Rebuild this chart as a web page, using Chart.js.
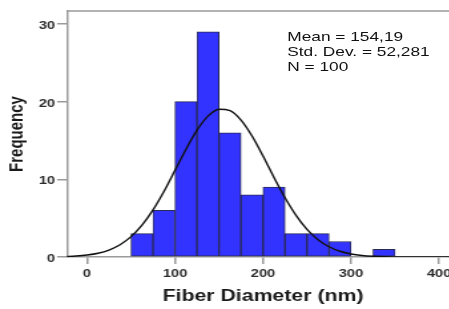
<!DOCTYPE html>
<html>
<head>
<meta charset="utf-8">
<script src="https://cdn.jsdelivr.net/npm/chart.js@4/dist/chart.umd.min.js"></script>
<style>
  html, body { margin: 0; padding: 0; background: #fff; overflow: hidden; width: 449px; height: 309px; }
  #wrap { position: absolute; left: 0; top: 0; width: 353px; height: 309px; transform: scaleX(1.33); transform-origin: 0 0; }
  #stats { position: absolute; left: 216px; top: 29px; font: 13px "Liberation Sans", Arial, sans-serif; line-height: 15px; color: #111; white-space: nowrap; }
</style>
</head>
<body>
<div id="wrap">
  <canvas id="c" width="353" height="309"></canvas>
  <div id="stats"></div>
</div>
<script>
// Histogram bins (bin centres, width 25 nm) and counts
const binCenters = [62.5, 87.5, 112.5, 137.5, 162.5, 187.5, 212.5, 237.5, 262.5, 287.5, 312.5, 337.5];
const binCounts  = [3, 6, 20, 29, 16, 8, 9, 3, 3, 2, 0, 1];

// Fitted normal curve
const curveX = [-25, -12.5, 0, 12.5, 25, 37.5, 50, 62.5, 75, 87.5, 100, 112.5, 125, 137.5, 150, 162.5, 175, 187.5, 200, 212.5, 225, 237.5, 250, 262.5, 275, 287.5, 300, 312.5, 325, 337.5, 350, 375, 400, 425];
const curveY = [0.05, 0.12, 0.25, 0.48, 0.90, 1.58, 2.62, 4.10, 6.06, 8.46, 11.16, 13.88, 16.33, 18.13, 19.02, 18.84, 17.63, 15.58, 13.00, 10.24, 7.63, 5.36, 3.56, 2.23, 1.32, 0.74, 0.39, 0.19, 0.09, 0.04, 0.02, 0.00, 0.00, 0.00];

// Tick labels
const xTicks = [0, 100, 200, 300, 400];
const yTicks = [0, 10, 20, 30];

const statsLines = ["Mean = 154,19", "Std. Dev. = 52,281", "N = 100"];
const xTitle = "Fiber Diameter (nm)";
const yTitle = "Frequency";

document.getElementById('stats').innerHTML = statsLines.map(s => '<div>' + s + '</div>').join('');

const axisGray = '#9a9a9a';
const tickFont = { family: '"Liberation Sans", Arial, sans-serif', size: 11, weight: 'bold' };

const frame = {
  id: 'frame',
  afterDatasetsDraw(chart) {
    const { ctx, chartArea: a } = chart;
    ctx.save();
    ctx.strokeStyle = axisGray;
    ctx.lineWidth = 1.5;
    ctx.beginPath();
    ctx.moveTo(a.left, a.top);
    ctx.lineTo(a.right, a.top);
    ctx.lineTo(a.right, a.bottom);
    ctx.stroke();
    ctx.restore();
  }
};

new Chart(document.getElementById('c'), {
  type: 'bar',
  data: {
    datasets: [
      {
        type: 'line',
        order: 0,
        data: curveX.map((x, i) => ({ x: x, y: curveY[i] })),
        borderColor: '#111',
        borderWidth: 1.4,
        pointRadius: 0,
        cubicInterpolationMode: 'monotone',
        fill: false
      },
      {
        type: 'bar',
        order: 1,
        data: binCenters.map((x, i) => ({ x: x, y: binCounts[i] })),
        backgroundColor: '#3333ff',
        borderColor: '#2a2a55',
        borderWidth: 1,
        borderSkipped: false,
        categoryPercentage: 1,
        barPercentage: 1
      }
    ]
  },
  options: {
    responsive: false,
    animation: false,
    events: [],
    layout: { padding: { left: 0, top: 11, right: 7.9, bottom: 0 } },
    plugins: { legend: { display: false }, tooltip: { enabled: false } },
    scales: {
      x: {
        type: 'linear',
        offset: false,
        min: -22.7,
        max: 422.7,
        afterBuildTicks(s) { s.ticks = xTicks.map(v => ({ value: v })); },
        afterFit(s) { s.height = 52; },
        grid: { offset: false, drawOnChartArea: false, drawTicks: true, tickLength: 7, color: axisGray, lineWidth: 1.5 },
        border: { display: true, color: axisGray, width: 1.5 },
        ticks: { font: tickFont, color: '#2b2b2b', padding: 3, maxRotation: 0, autoSkip: false },
        title: { display: true, text: xTitle, color: '#1a1a1a', font: { family: '"Liberation Sans", Arial, sans-serif', size: 16, weight: 'bold' }, padding: { top: 0, bottom: 3 } }
      },
      y: {
        min: 0,
        max: 31.67,
        afterBuildTicks(s) { s.ticks = yTicks.map(v => ({ value: v })); },
        afterFit(s) { s.width = 50.4; },
        grid: { drawOnChartArea: false, drawTicks: true, tickLength: 7.5, color: axisGray, lineWidth: 1.5 },
        border: { display: true, color: axisGray, width: 1.5 },
        ticks: { font: tickFont, color: '#2b2b2b', padding: 1.5, labelOffset: 2 },
        title: { display: true, text: yTitle, color: '#1a1a1a', font: { family: '"Liberation Sans", Arial, sans-serif', size: 15, weight: 'bold' }, padding: { top: 4, bottom: 0 } }
      }
    }
  },
  plugins: [frame]
});
</script>
</body>
</html>
